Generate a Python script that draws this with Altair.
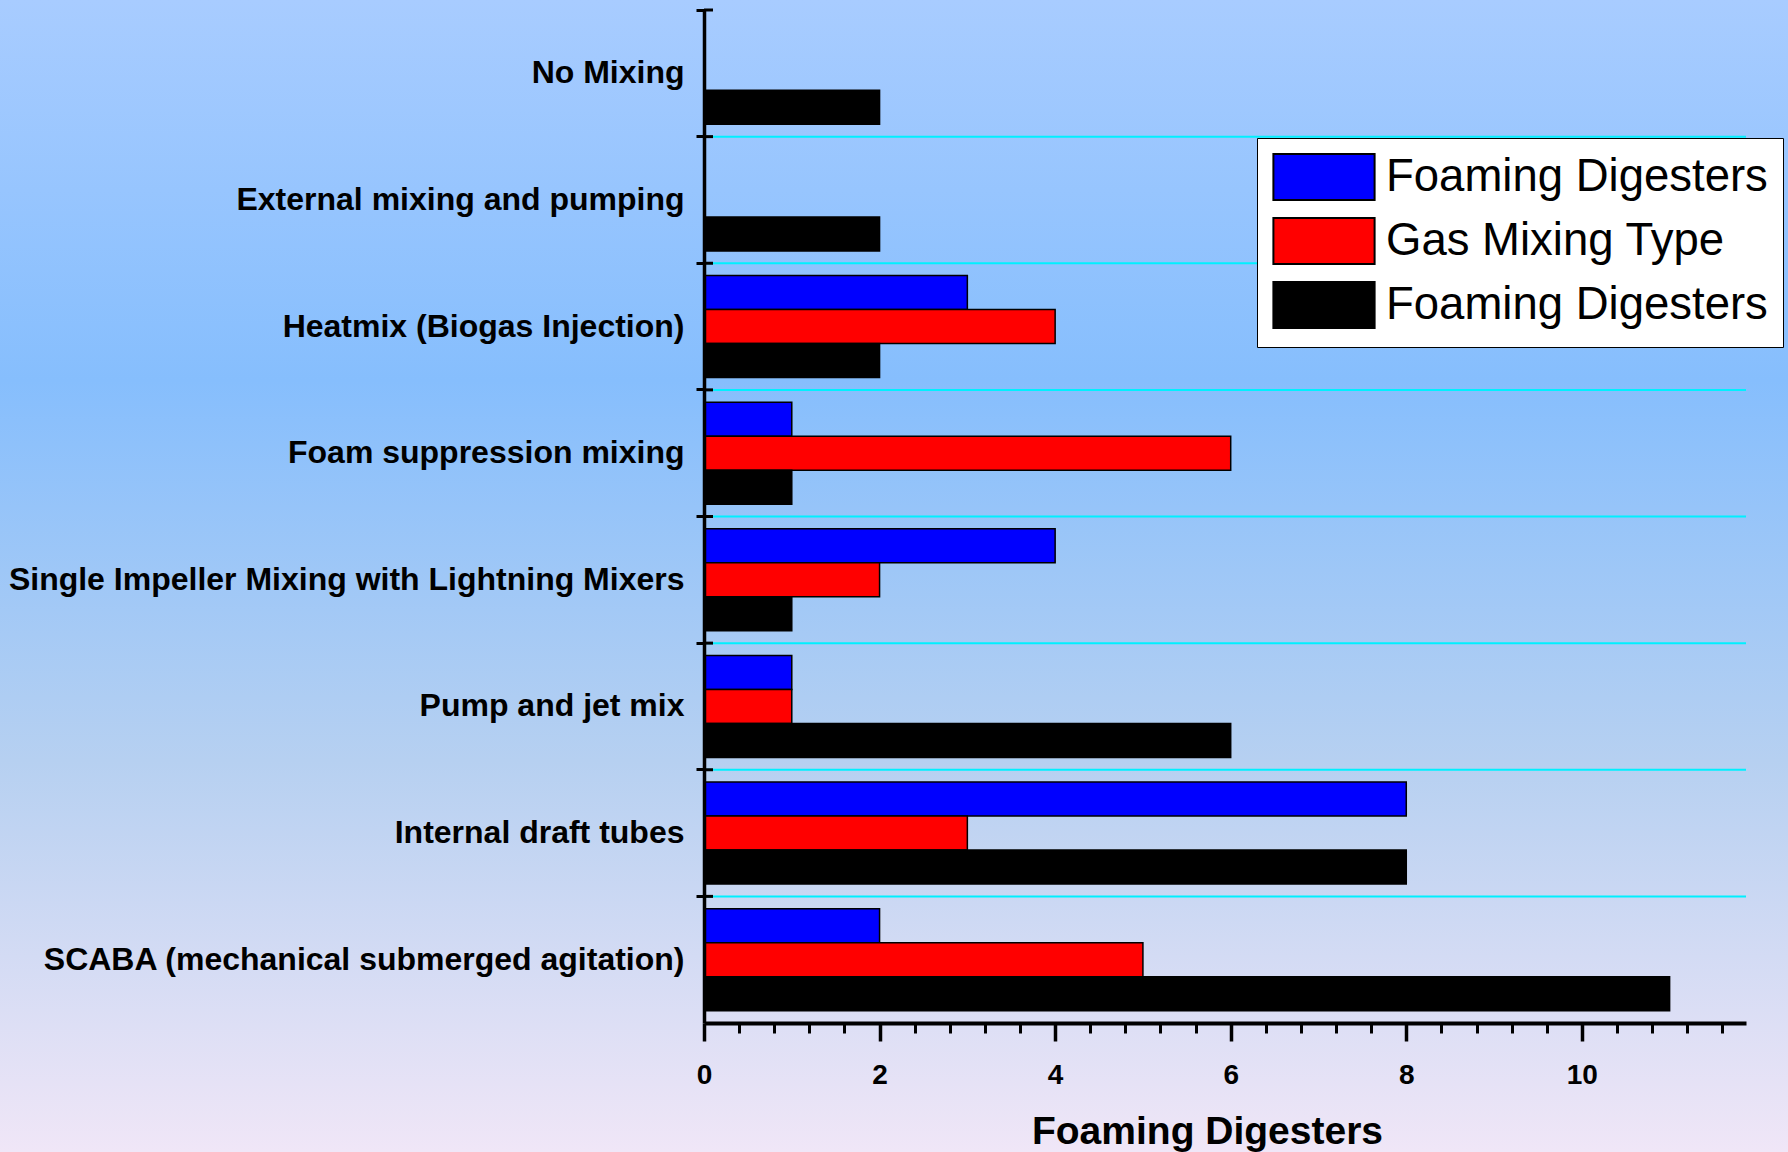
import altair as alt
import pandas as pd

# Mixing types, listed top to bottom
categories = [
    "No Mixing",
    "External mixing and pumping",
    "Heatmix (Biogas Injection)",
    "Foam suppression mixing",
    "Single Impeller Mixing with Lightning Mixers",
    "Pump and jet mix",
    "Internal draft tubes",
    "SCABA (mechanical submerged agitation)",
]

# Three series per mixing type (legend labels, as printed)
series_keys = ["s1", "s2", "s3"]
series_labels = ["Foaming Digesters", "Gas Mixing Type", "Foaming Digesters"]
series_colors = ["#0000ff", "#ff0000", "#000000"]

blue_values = [0, 0, 3, 1, 4, 1, 8, 2]
red_values = [0, 0, 4, 6, 2, 1, 3, 5]
black_values = [2, 2, 2, 1, 1, 6, 8, 11]

major_ticks = [0, 2, 4, 6, 8, 10]
minor_ticks = [0.4, 0.8, 1.2, 1.6, 2.4, 2.8, 3.2, 3.6, 4.4, 4.8, 5.2, 5.6,
               6.4, 6.8, 7.2, 7.6, 8.4, 8.8, 9.2, 9.6, 10.4, 10.8, 11.2, 11.6]

rows = []
for key, vals in zip(series_keys, [blue_values, red_values, black_values]):
    for cat, v in zip(categories, vals):
        rows.append({"category": cat, "series": key, "value": v})
bars_df = pd.DataFrame(rows)
cats_df = pd.DataFrame({"category": categories})

FONT = "Liberation Sans"
W, H = 1042, 1013

label_expr = " : ".join(
    f"datum.value == '{k}' ? '{l}'" for k, l in zip(series_keys[:-1], series_labels[:-1])
) + f" : '{series_labels[-1]}'"

y_scale = alt.Scale(domain=categories, paddingInner=0, paddingOuter=0)
x_scale = alt.Scale(domain=[0, 11.87], nice=False, zero=True)

y_axis = alt.Axis(
    bandPosition=0, labelFont=FONT, labelFontWeight="bold", labelFontSize=32,
    labelColor="black", labelPadding=12, labelLimit=0, tickSize=8, tickWidth=3,
    tickColor="black", domainColor="black", domainWidth=3.5, grid=False, zindex=1,
)
y_enc = alt.Y("category:N", scale=y_scale, title=None, axis=y_axis)
y_edge = alt.Y("category:N", scale=y_scale, title=None, axis=y_axis, bandPosition=0)

# Page background gradient
background = alt.Chart(alt.Data(values=[{}])).mark_rect(
    color=alt.LinearGradient(
        gradient="linear", x1=0, x2=0, y1=0, y2=1,
        stops=[
            alt.GradientStop(color="#a8ccff", offset=0),
            alt.GradientStop(color="#86befd", offset=0.33),
            alt.GradientStop(color="#b6d0f1", offset=0.66),
            alt.GradientStop(color="#f0e6f7", offset=1),
        ],
    )
).encode(
    x=alt.value(-704), x2=alt.value(W + 46),
    y=alt.value(-10), y2=alt.value(H + 129),
)

# Cyan separators between mixing types
separators = alt.Chart(cats_df).transform_filter(
    alt.datum.category != categories[0]
).mark_rule(color="#00f0ff", strokeWidth=2).encode(
    y=y_edge, x=alt.value(0), x2=alt.value(W),
)

# Short inner tick marks on the category axis
inner_ticks = alt.Chart(cats_df).mark_rule(color="black", strokeWidth=3).encode(
    y=y_edge, x=alt.value(0), x2=alt.value(9),
)

bars = alt.Chart(bars_df).transform_filter(alt.datum.value > 0).mark_bar(
    stroke="black", strokeWidth=1.5, opacity=1
).encode(
    y=y_enc,
    yOffset=alt.YOffset("series:N", sort=series_keys,
                        scale=alt.Scale(paddingInner=0, paddingOuter=0.36)),
    x=alt.X(
        "value:Q", scale=x_scale, title="Foaming Digesters",
        axis=alt.Axis(
            values=major_ticks, format="d", labelFont=FONT, labelFontWeight="bold",
            labelFontSize=28, labelColor="black", labelPadding=20, labelFlush=False,
            tickSize=18, tickWidth=3.5, tickColor="black", domainColor="black",
            domainWidth=4, titleFont=FONT, titleFontWeight="bold", titleFontSize=39,
            titleColor="black", titleBaseline="alphabetic", titleX=503, titleY=120,
            titleAnchor="middle", grid=False, zindex=1,
        ),
    ),
    color=alt.Color(
        "series:N",
        scale=alt.Scale(domain=series_keys, range=series_colors),
        legend=alt.Legend(
            orient="none", legendX=553, legendY=128, title=None,
            fillColor="white", strokeColor="black", padding=15,
            labelFont=FONT, labelFontSize=45.5, labelColor="black", labelLimit=0,
            labelExpr=label_expr,
            symbolType="M-2.2,-1L2.2,-1L2.2,1L-2.2,1Z", symbolSize=2116,
            symbolOffset=28, labelOffset=38,
            symbolStrokeColor="black", symbolStrokeWidth=2, symbolOpacity=1,
            rowPadding=10,
        ),
    ),
)

# Minor tick marks along the value axis
minor_axis = alt.Chart(bars_df).mark_point(opacity=0).encode(
    x=alt.X(
        "value:Q", scale=x_scale, title=None,
        axis=alt.Axis(
            orient="bottom", values=minor_ticks, labels=False, domain=False,
            tickSize=10, tickWidth=3, tickColor="black", grid=False, zindex=1,
        ),
    ),
)

chart = alt.layer(background, separators, bars, inner_ticks, minor_axis).resolve_axis(
    x="independent"
).properties(
    width=W, height=H,
    autosize=alt.AutoSizeParams(type="none"),
    padding={"left": 704, "top": 10, "right": 42, "bottom": 129},
).configure_view(stroke=None).configure_legend(strokeWidth=2).configure(
    background="#a8ccff"
)

chart.save("out.html", embed_options={"renderer": "svg", "actions": False})
